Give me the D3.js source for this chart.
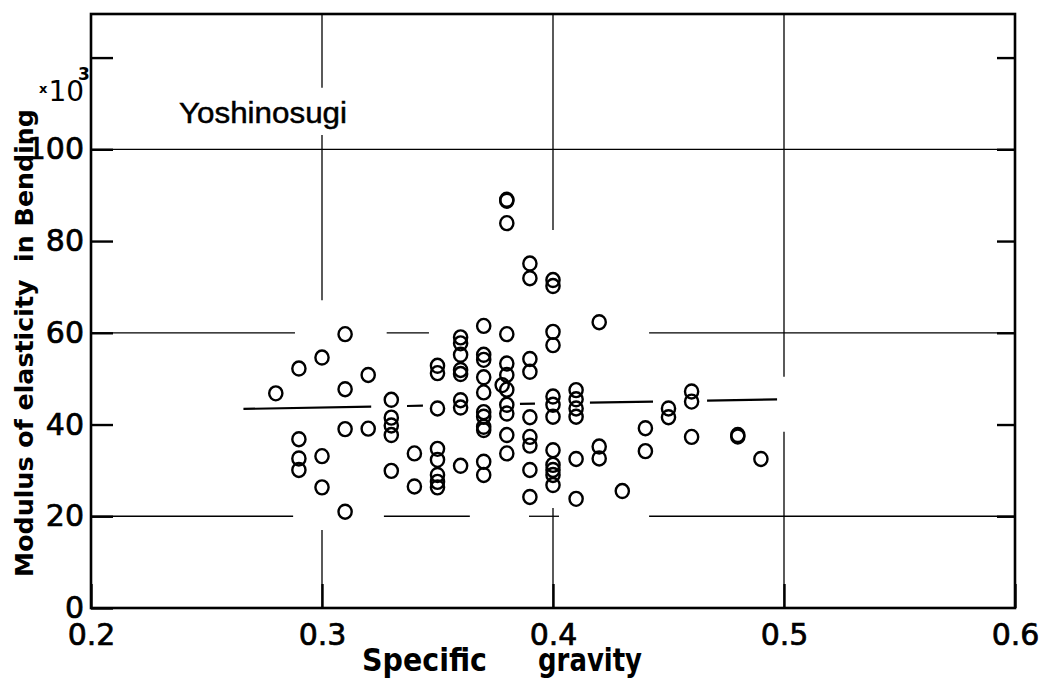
<!DOCTYPE html>
<html>
<head>
<meta charset="utf-8">
<script src="https://cdn.jsdelivr.net/npm/d3@7/dist/d3.min.js"></script>
<style>
  html, body { margin: 0; padding: 0; background: #fff; }
  svg { display: block; }
  .tick-lbl text { font-family: "DejaVu Sans", sans-serif; font-size: 30px; fill: #000; stroke: #000; stroke-width: 0.7px; }
  .axis-title { font-family: "DejaVu Sans", sans-serif; font-weight: bold; font-size: 25px; fill: #000; }
</style>
</head>
<body>
<svg id="chart" width="1042" height="682"></svg>
<script>
// ---------------------------------------------------------------------------
// Data — specific gravity columns and the MOE readings (x10^3) at each column
// ---------------------------------------------------------------------------
const sgColumns = [0.28, 0.29, 0.30, 0.31, 0.32, 0.33, 0.34, 0.35, 0.36, 0.37,
                   0.378, 0.38, 0.39, 0.40, 0.41, 0.42, 0.43, 0.44, 0.45, 0.46,
                   0.48, 0.49];

const moeColumns = [
  [46.8],
  [52.2, 36.8, 32.6, 30.1],
  [54.6, 33.1, 26.3],
  [59.7, 47.7, 39.0, 21.0],
  [50.8, 39.1],
  [45.4, 41.5, 39.8, 37.7, 29.9],
  [33.7, 26.5],
  [52.8, 51.2, 43.5, 34.7, 32.3, 29.0, 27.5, 26.3],
  [59.0, 57.7, 55.2, 51.9, 51.0, 45.3, 43.7, 31.0],
  [61.5, 55.2, 54.1, 50.3, 47.0, 42.7, 41.7, 39.5, 38.8, 31.9, 29.0],
  [48.6],
  [89.0, 88.8, 83.9, 59.7, 53.3, 50.8, 47.6, 44.3, 42.4, 37.7, 33.7],
  [75.1, 71.9, 54.3, 51.5, 41.6, 37.3, 35.4, 30.1, 24.2],
  [71.5, 70.2, 60.2, 57.3, 46.1, 44.3, 41.7, 34.4, 31.2, 30.1, 29.0, 26.8],
  [47.5, 45.5, 43.5, 41.7, 32.5, 23.8],
  [62.3, 35.2, 32.6],
  [25.5],
  [39.2, 34.2],
  [43.5, 41.6],
  [47.2, 45.0, 37.3],
  [37.7, 37.4],
  [32.5]
];

// Regression line (start / end) and the pieces actually inked between points
const regStart = [0.266, 43.4];
const regEnd   = [0.497, 45.5];
const regPieces = [[0.266, 0.3213], [0.3368, 0.3437], [0.3857, 0.3922],
                   [0.416, 0.4433], [0.4667, 0.497]];

// Axis ticks
const xTicks = [0.2, 0.3, 0.4, 0.5, 0.6];
const yTicks = [0, 20, 40, 60, 80, 100, 120];

// Grid lines: hand-drawn, broken where the cloud of points sits
const hGrid = [
  { y: 100, pieces: [[0.2, 0.6]] },
  { y: 60,  pieces: [[0.2, 0.2883], [0.328, 0.3463], [0.4416, 0.6]] },
  { y: 20,  pieces: [[0.2, 0.2875], [0.3268, 0.364], [0.3896, 0.4026], [0.4416, 0.6]] },
];
const vGrid = [
  { x: 0.3, pieces: [[113.4, 129.5], [67.1, 103.1], [0, 17.0]] },
  { x: 0.4, pieces: [[82.4, 129.5], [0, 21.8]] },
  { x: 0.5, pieces: [[50.4, 129.5], [0, 38.4]] },
];

// ---------------------------------------------------------------------------
// Layout
// ---------------------------------------------------------------------------
const M = { left: 91, right: 1015, top: 14, bottom: 608 };

const x = d3.scaleLinear().domain([0.2, 0.6]).range([M.left, M.right]);
const y = d3.scaleLinear().domain([0, 129.5]).range([M.bottom, M.top]);

const svg = d3.select('#chart');

// ---- Grid ----
const grid = svg.append('g').attr('stroke', '#000').attr('stroke-width', 1.3);
hGrid.forEach(g => {
  grid.selectAll(null).data(g.pieces).join('line')
    .attr('x1', d => x(d[0])).attr('x2', d => x(d[1]))
    .attr('y1', y(g.y)).attr('y2', y(g.y));
});
vGrid.forEach(g => {
  grid.selectAll(null).data(g.pieces).join('line')
    .attr('x1', x(g.x)).attr('x2', x(g.x))
    .attr('y1', d => y(d[0])).attr('y2', d => y(d[1]));
});

// ---- Regression line ----
const regY = sg => regStart[1] + (regEnd[1] - regStart[1]) * (sg - regStart[0]) / (regEnd[0] - regStart[0]);
svg.append('g').attr('stroke', '#000').attr('stroke-width', 2.2)
  .selectAll('line').data(regPieces).join('line')
    .attr('x1', d => x(d[0])).attr('y1', d => y(regY(d[0])))
    .attr('x2', d => x(d[1])).attr('y2', d => y(regY(d[1])));

// ---- Axes (inward ticks, frame drawn separately) ----
const yAxis = svg.append('g').attr('class', 'tick-lbl')
  .attr('transform', `translate(${M.left},0)`)
  .call(d3.axisLeft(y).tickValues(yTicks).tickSizeInner(-22).tickSizeOuter(0).tickPadding(7)
    .tickFormat(d => d <= 100 ? d : ''));

const yAxisR = svg.append('g').attr('class', 'tick-lbl')
  .attr('transform', `translate(${M.right},0)`)
  .call(d3.axisRight(y).tickValues(yTicks.filter(d => d > 0)).tickSizeInner(-18).tickSizeOuter(0)
    .tickFormat(''));

const xAxis = svg.append('g').attr('class', 'tick-lbl')
  .attr('transform', `translate(0,${M.bottom})`)
  .call(d3.axisBottom(x).tickValues(xTicks).tickSizeInner(-24).tickSizeOuter(0).tickPadding(16)
    .tickFormat(d3.format('.1f')));

[yAxis, yAxisR, xAxis].forEach(a => {
  a.select('.domain').remove();
  a.selectAll('.tick line').attr('stroke', '#000').attr('stroke-width', 2.4);
  a.selectAll('.tick text').attr('fill', '#000');
});

// Frame
svg.append('rect')
  .attr('x', M.left).attr('y', M.top)
  .attr('width', M.right - M.left).attr('height', M.bottom - M.top)
  .attr('fill', 'none').attr('stroke', '#000').attr('stroke-width', 2.6);

// ---- Points ----
const points = sgColumns.flatMap((sg, i) => moeColumns[i].map(v => ({ sg, moe: v })));
svg.append('g')
  .selectAll('ellipse').data(points).join('ellipse')
    .attr('cx', d => x(d.sg))
    .attr('cy', d => y(d.moe))
    .attr('rx', 6.6).attr('ry', 7.0)
    .attr('fill', 'none')
    .attr('stroke', '#000')
    .attr('stroke-width', 2.4);

// ---- Labels ----
svg.append('text')
  .attr('x', 179).attr('y', 123)
  .style('font-family', '"Liberation Sans", Arial, sans-serif')
  .style('font-size', '30px')
  .style('stroke', '#000').style('stroke-width', '0.5px')
  .attr('textLength', 168).attr('lengthAdjust', 'spacingAndGlyphs')
  .text('Yoshinosugi');

svg.append('text').attr('class', 'axis-title')
  .attr('transform', 'translate(33,577) rotate(-90)')
  .style('white-space', 'pre')
  .attr('textLength', 468).attr('lengthAdjust', 'spacingAndGlyphs')
  .text('Modulus of elasticity  in Bending');

// x10^3 multiplier, upright next to the top of the axis title
const mult = svg.append('text')
  .attr('x', 39).attr('y', 101)
  .style('font-family', '"DejaVu Sans", sans-serif');
mult.append('tspan').attr('dy', -8).style('font-weight', 'bold').style('font-size', '13px').text('x');
mult.append('tspan').attr('dx', 1).attr('dy', 8).style('font-size', '28px').text('10');
mult.append('tspan').attr('dx', -6).attr('dy', -21).style('font-weight', 'bold').style('font-size', '17px').text('3');

// x-axis title
const xTitle = svg.append('g')
  .style('font-family', '"DejaVu Sans Condensed", "DejaVu Sans", sans-serif')
  .style('font-weight', 'bold')
  .style('font-size', '32px');
xTitle.append('text').attr('x', 362).attr('y', 671)
  .attr('textLength', 125).attr('lengthAdjust', 'spacingAndGlyphs').text('Specific');
xTitle.append('text').attr('x', 538).attr('y', 671)
  .attr('textLength', 104).attr('lengthAdjust', 'spacingAndGlyphs').text('gravity');
</script>
</body>
</html>
